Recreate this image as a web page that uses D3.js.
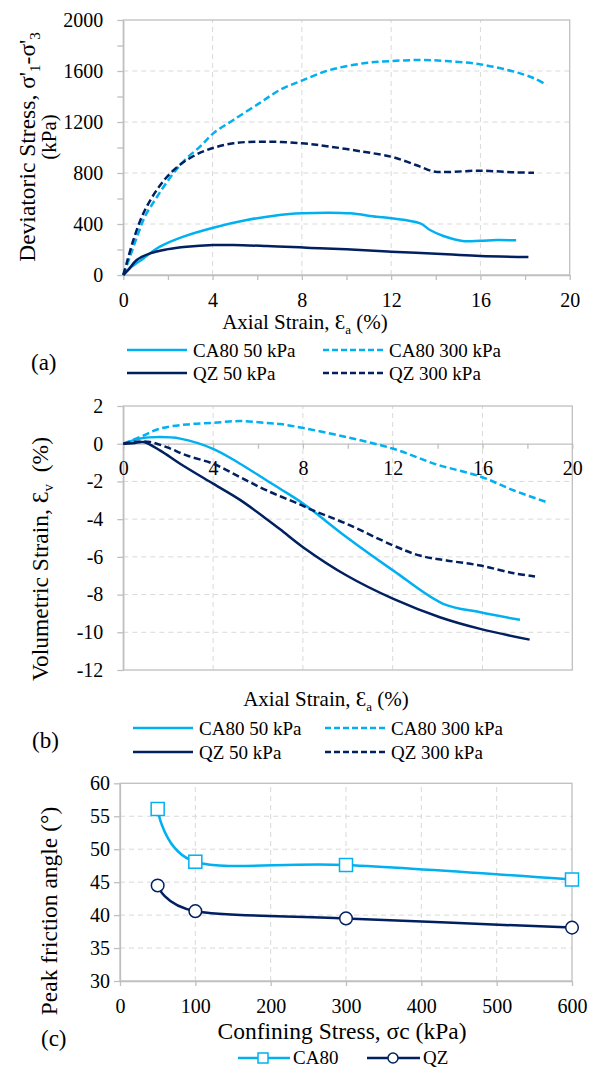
<!DOCTYPE html>
<html>
<head>
<meta charset="utf-8">
<script src="https://cdn.jsdelivr.net/npm/d3@7"></script>
<style>
  body { margin: 0; background: #fff; }
  svg text { font-family: "Liberation Serif", "Times New Roman", Tinos, "DejaVu Serif", serif !important; fill: #000; }
</style>
</head>
<body>
<svg id="chart" width="589" height="1068"></svg>
<script>
// ---- data ----
// (a) deviatoric stress (kPa) vs axial strain (%)
var ca80_50_dev = [[0,0],[0.3,55],[0.9,130],[1.64,222],[2.69,301],[4.03,371],[5.53,431],[7.0,471],[8.0,484],[9.26,489],[10.16,484],[11.35,457],[12.0,445],[13.3,405],[13.74,353],[14.34,306],[15.2,267],[16.0,269],[16.73,274],[17.6,272]];
var ca80_300_dev = [[0,0],[0.3,144],[0.67,327],[1.0,470],[1.42,588],[1.8,690],[2.24,797],[2.8,910],[3.44,1007],[4.03,1111],[4.93,1216],[6.12,1350],[7.0,1450],[8.0,1525],[9.26,1608],[10.75,1660],[12.0,1678],[13.3,1686],[14.5,1678],[16.0,1652],[17.5,1595],[18.4,1543],[18.97,1490]];
var qz_50_dev = [[0,0],[0.22,39],[0.6,118],[1.2,170],[1.94,201],[2.84,222],[4.03,235],[4.93,235],[6.42,227],[7.9,217],[8.8,209],[10.0,201],[12.0,183],[14.5,162],[16.0,149],[18.15,141]];
var qz_300_dev = [[0,0],[0.15,92],[0.45,274],[0.9,484],[1.5,667],[2.1,797],[2.84,902],[3.74,980],[4.93,1033],[6.42,1046],[8.0,1033],[9.26,1007],[10.75,967],[12.0,928],[12.7,889],[13.3,850],[13.9,812],[14.5,808],[16.0,818],[17.5,805],[18.4,802]];

// (b) volumetric strain (%) vs axial strain (%)
var ca80_50_vol = [[0,0],[0.74,0.27],[1.63,0.35],[2.53,0.27],[4.0,-0.27],[5.2,-1.06],[6.39,-1.95],[7.0,-2.4],[8.02,-3.18],[9.95,-4.96],[12.03,-6.73],[14.25,-8.49],[15.9,-8.94],[17.67,-9.34]];
var ca80_300_vol = [[0,0],[0.74,0.35],[1.63,0.8],[2.82,1.02],[4.0,1.11],[5.2,1.2],[6.39,1.1],[7.0,1.04],[8.02,0.83],[9.95,0.35],[12.03,-0.27],[13.96,-1.1],[15.9,-1.74],[17.4,-2.48],[18.86,-3.1]];
var qz_50_vol = [[0,0],[0.45,0.03],[0.89,0.09],[1.63,-0.35],[2.53,-1.06],[4.0,-2.12],[5.2,-2.98],[6.39,-4.0],[7.0,-4.55],[8.02,-5.5],[9.95,-6.99],[12.03,-8.23],[14.1,-9.2],[15.9,-9.82],[18.1,-10.39]];
var qz_300_vol = [[0,0],[0.45,0.09],[1.19,0.09],[1.93,-0.18],[2.82,-0.62],[4.0,-1.06],[5.2,-1.77],[6.39,-2.48],[7.87,-3.22],[8.46,-3.54],[9.95,-4.25],[12.03,-5.4],[13.2,-5.93],[14.4,-6.19],[15.9,-6.46],[17.4,-6.87],[18.34,-7.04]];

// (c) peak friction angle vs confining stress
var confining = [50, 100, 300, 600];
var ca80_phi = [56.1, 48.1, 47.6, 45.4];
var qz_phi = [44.5, 40.6, 39.5, 38.1];

var seriesNames = ["CA80 50 kPa", "CA80 300 kPa", "QZ 50 kPa", "QZ 300 kPa"];

var lightBlue = "#00b0f0", navy = "#002060";
var axisGrey = "#bfbfbf", gridGrey = "#d9d9d9";
var serif = "'Liberation Serif', 'Times New Roman', Tinos, 'DejaVu Serif', serif";

var svg = d3.select("#chart").attr("font-family", serif);

function styleAxis(a) {
    a.attr("font-family", serif);
    a.select(".domain").attr("stroke", axisGrey).attr("stroke-width", 1.3);
    a.selectAll(".tick line").attr("stroke", axisGrey).attr("stroke-width", 1.3);
    a.selectAll(".tick text").attr("font-size", 20).attr("fill", "#000");
}

function gridLines(g, x, y, xs, ys) {
    var grid = g.append("g").attr("stroke", gridGrey).attr("stroke-dasharray", "5,4").attr("stroke-width", 1);
    xs.forEach(function(v) {
        grid.append("line").attr("x1", x(v)).attr("x2", x(v)).attr("y1", y.range()[0]).attr("y2", y.range()[1]);
    });
    ys.forEach(function(v) {
        grid.append("line").attr("x1", x.range()[0]).attr("x2", x.range()[1]).attr("y1", y(v)).attr("y2", y(v));
    });
    g.append("rect")
        .attr("x", x.range()[0]).attr("y", y.range()[1])
        .attr("width", x.range()[1] - x.range()[0])
        .attr("height", y.range()[0] - y.range()[1])
        .attr("fill", "none").attr("stroke", axisGrey).attr("stroke-width", 1.3);
}

// the four strain series share colour and dash
var styles = [
    { color: lightBlue, dash: null },
    { color: lightBlue, dash: "7,3.5" },
    { color: navy, dash: null },
    { color: navy, dash: "7,3.5" }
];

function drawCurves(g, x, y, sets) {
    var line = d3.line()
        .x(function(d) { return x(d[0]); })
        .y(function(d) { return y(d[1]); })
        .curve(d3.curveCatmullRom.alpha(0.5));
    sets.forEach(function(s, i) {
        g.append("path")
            .datum(s)
            .attr("fill", "none")
            .attr("stroke", styles[i].color)
            .attr("stroke-width", 2.5)
            .attr("stroke-dasharray", styles[i].dash)
            .attr("d", line);
    });
}

function legend4(g, x1, x2, y1, y2) {
    var pos = [[x1, y1], [x2, y1], [x1, y2], [x2, y2]];
    seriesNames.forEach(function(name, i) {
        var p = pos[i];
        g.append("line")
            .attr("x1", p[0]).attr("x2", p[0] + 60)
            .attr("y1", p[1]).attr("y2", p[1])
            .attr("stroke", styles[i].color).attr("stroke-width", 2.5)
            .attr("stroke-dasharray", styles[i].dash ? "6,3" : null);
        g.append("text")
            .attr("x", p[0] + 66).attr("y", p[1] + 6.5)
            .attr("font-size", 19)
            .text(name);
    });
}

function strainTitle(g, cx, y, sub) {
    var t = g.append("text").attr("x", cx).attr("y", y).attr("font-size", 21).attr("text-anchor", "middle");
    t.append("tspan").text("Axial Strain, \u0190");
    t.append("tspan").attr("font-size", 13).attr("dy", 5).text(sub);
    t.append("tspan").attr("dy", -5).text("\u00a0(%)");
}

// ================= (a) =================
var gA = svg.append("g");
var xA = d3.scaleLinear().domain([0, 20]).range([123.3, 569.7]);
var yA = d3.scaleLinear().domain([0, 2000]).range([275, 20]);

gridLines(gA, xA, yA, [4, 8, 12, 16], [400, 800, 1200, 1600]);

gA.append("g")
    .attr("transform", "translate(0," + yA(0) + ")")
    .call(d3.axisBottom(xA).tickValues(d3.range(0, 21, 2)).tickSize(5).tickSizeOuter(0).tickPadding(13)
        .tickFormat(function(d) { return d % 4 === 0 ? d : ""; }))
    .call(styleAxis);
gA.append("g")
    .attr("transform", "translate(" + xA(0) + ",0)")
    .call(d3.axisLeft(yA).tickValues(d3.range(0, 2001, 200)).tickSize(6).tickSizeOuter(0).tickPadding(14)
        .tickFormat(function(d) { return d % 400 === 0 ? d : ""; }))
    .call(styleAxis);

drawCurves(gA, xA, yA, [ca80_50_dev, ca80_300_dev, qz_50_dev, qz_300_dev]);

var yt = gA.append("text").attr("transform", "translate(35,147) rotate(-90)")
    .attr("text-anchor", "middle").attr("font-size", 23.5);
yt.append("tspan").text("Deviatoric Stress, \u03c3'");
yt.append("tspan").attr("font-size", 15).attr("dy", 5).text("1");
yt.append("tspan").attr("dy", -5).text("-\u03c3'");
yt.append("tspan").attr("font-size", 15).attr("dy", 5).text("3");
gA.append("text").attr("transform", "translate(56,137) rotate(-90)")
    .attr("text-anchor", "middle").attr("font-size", 21).text("(kPa)");

strainTitle(gA, 305, 329, "a");
legend4(gA, 127, 323, 350, 373);
gA.append("text").attr("x", 31).attr("y", 370).attr("font-size", 23).text("(a)");

// ================= (b) =================
var gB = svg.append("g");
var xB = d3.scaleLinear().domain([0, 20]).range([123.3, 572.3]);
var yB = d3.scaleLinear().domain([-12, 2]).range([670, 406]);

gridLines(gB, xB, yB, [4, 8, 12, 16], [-2, -4, -6, -8, -10]);

gB.append("g")
    .attr("transform", "translate(" + xB(0) + ",0)")
    .call(d3.axisLeft(yB).tickValues(d3.range(-12, 3, 2)).tickSize(6).tickSizeOuter(0).tickPadding(14)
        .tickFormat(function(d) { return String(d); }))
    .call(styleAxis);
gB.append("g")
    .attr("transform", "translate(0," + yB(0) + ")")
    .call(d3.axisBottom(xB).tickValues(d3.range(0, 21, 2)).tickSize(5).tickSizeOuter(0).tickPadding(12)
        .tickFormat(function(d) { return d % 4 === 0 ? d : ""; }))
    .call(styleAxis);

drawCurves(gB, xB, yB, [ca80_50_vol, ca80_300_vol, qz_50_vol, qz_300_vol]);

var yt2 = gB.append("text").attr("transform", "translate(48,559) rotate(-90)")
    .attr("text-anchor", "middle").attr("font-size", 23.5);
yt2.append("tspan").text("Volumetric Strain, \u0190");
yt2.append("tspan").attr("font-size", 15).attr("dy", 5).text("v");
yt2.append("tspan").attr("dy", -5).text("\u00a0\u00a0(%)");

strainTitle(gB, 326, 706, "a");
legend4(gB, 133, 325, 728, 752);
gB.append("text").attr("x", 32).attr("y", 748).attr("font-size", 23).text("(b)");

// ================= (c) =================
var gC = svg.append("g");
var xC = d3.scaleLinear().domain([0, 600]).range([120, 572]);
var yC = d3.scaleLinear().domain([30, 60]).range([981, 783.3]);

gridLines(gC, xC, yC, [100, 200, 300, 400, 500], [35, 40, 45, 50, 55]);

gC.append("g")
    .attr("transform", "translate(0," + yC(30) + ")")
    .call(d3.axisBottom(xC).tickValues(d3.range(0, 601, 100)).tickSize(5).tickSizeOuter(0).tickPadding(13))
    .call(styleAxis);
gC.append("g")
    .attr("transform", "translate(" + xC(0) + ",0)")
    .call(d3.axisLeft(yC).tickValues(d3.range(30, 61, 5)).tickSize(6).tickSizeOuter(0).tickPadding(4))
    .call(styleAxis);

var phiLine = d3.line()
    .x(function(d) { return xC(d[0]); })
    .y(function(d) { return yC(d[1]); })
    .curve(d3.curveCatmullRom.alpha(0));

var ca80Pts = confining.map(function(s, i) { return [s, ca80_phi[i]]; });
var qzPts = confining.map(function(s, i) { return [s, qz_phi[i]]; });

gC.append("path").datum(ca80Pts).attr("fill", "none").attr("stroke", lightBlue).attr("stroke-width", 2.5).attr("d", phiLine);
gC.append("path").datum(qzPts).attr("fill", "none").attr("stroke", navy).attr("stroke-width", 2.5).attr("d", phiLine);

gC.selectAll(".sq").data(ca80Pts).enter().append("rect")
    .attr("x", function(d) { return xC(d[0]) - 6.5; })
    .attr("y", function(d) { return yC(d[1]) - 6.5; })
    .attr("width", 13).attr("height", 13)
    .attr("fill", "#fff").attr("stroke", lightBlue).attr("stroke-width", 1.5);
gC.selectAll(".ci").data(qzPts).enter().append("circle")
    .attr("cx", function(d) { return xC(d[0]); })
    .attr("cy", function(d) { return yC(d[1]); })
    .attr("r", 6.3)
    .attr("fill", "#fff").attr("stroke", navy).attr("stroke-width", 1.5);

gC.append("text").attr("transform", "translate(57,911) rotate(-90)")
    .attr("text-anchor", "middle").attr("font-size", 23.5).text("Peak friction angle (\u00b0)");
gC.append("text").attr("x", 342).attr("y", 1039).attr("text-anchor", "middle").attr("font-size", 23.5)
    .text("Confining Stress, \u03c3c (kPa)");
gC.append("text").attr("x", 41).attr("y", 1046).attr("font-size", 23).text("(c)");

// legend (c)
var legC = gC.append("g");
legC.append("line").attr("x1", 238).attr("x2", 290).attr("y1", 1058).attr("y2", 1058).attr("stroke", lightBlue).attr("stroke-width", 2.5);
legC.append("rect").attr("x", 258).attr("y", 1053).attr("width", 10).attr("height", 10).attr("fill", "#fff").attr("stroke", lightBlue).attr("stroke-width", 1.5);
legC.append("text").attr("x", 293).attr("y", 1064).attr("font-size", 19).text("CA80");
legC.append("line").attr("x1", 367).attr("x2", 420).attr("y1", 1058).attr("y2", 1058).attr("stroke", navy).attr("stroke-width", 2.5);
legC.append("circle").attr("cx", 393).attr("cy", 1058).attr("r", 5).attr("fill", "#fff").attr("stroke", navy).attr("stroke-width", 1.5);
legC.append("text").attr("x", 423).attr("y", 1064).attr("font-size", 19).text("QZ");
</script>
</body>
</html>
